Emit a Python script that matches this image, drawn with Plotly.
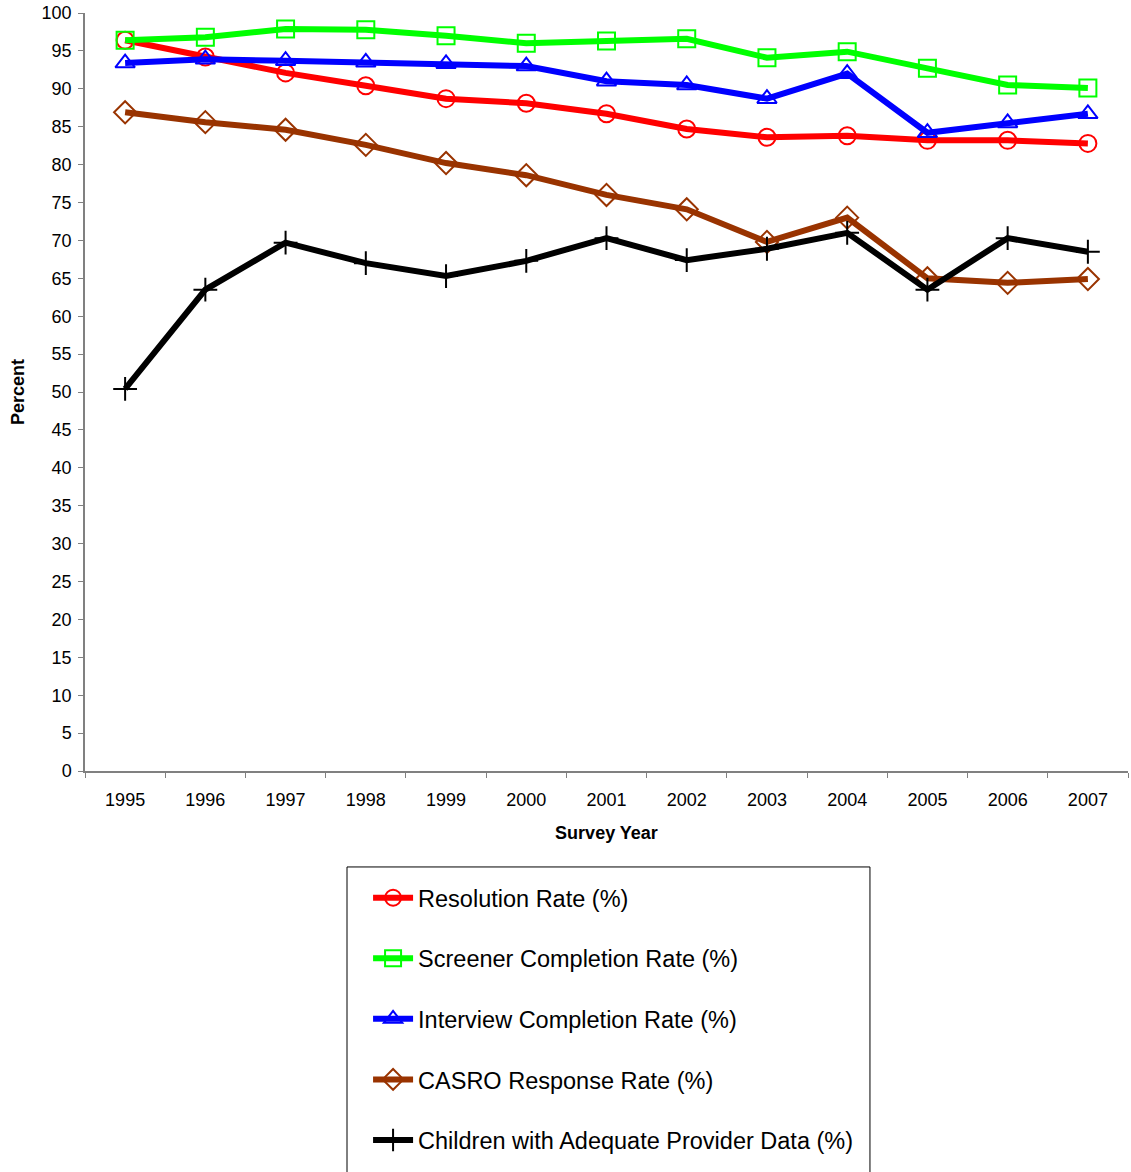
import plotly.graph_objects as go

years = ["1995", "1996", "1997", "1998", "1999", "2000", "2001", "2002", "2003", "2004", "2005", "2006", "2007"]
resolution = [96.4, 94.2, 92.1, 90.4, 88.7, 88.1, 86.7, 84.7, 83.6, 83.8, 83.2, 83.2, 82.8]
screener = [96.4, 96.8, 97.9, 97.8, 97.0, 96.0, 96.3, 96.6, 94.1, 94.9, 92.7, 90.5, 90.1]
interview = [93.4, 93.9, 93.7, 93.5, 93.3, 93.0, 91.0, 90.5, 88.7, 92.0, 84.2, 85.5, 86.7]
casro = [86.9, 85.6, 84.6, 82.6, 80.2, 78.6, 76.0, 74.1, 69.8, 73.0, 65.0, 64.4, 64.9]
children = [50.4, 63.5, 69.7, 67.0, 65.3, 67.3, 70.3, 67.4, 68.9, 71.0, 63.5, 70.3, 68.5]

series = [
    ("Resolution Rate (%)", resolution, "#FF0000", "circle-open"),
    ("Screener Completion Rate (%)", screener, "#00FF00", "square-open"),
    ("Interview Completion Rate (%)", interview, "#0000FF", "triangle-up-open"),
    ("CASRO Response Rate (%)", casro, "#993300", "diamond-open"),
    ("Children with Adequate Provider Data (%)", children, "#000000", "cross-thin-open"),
]

fig = go.Figure()
for i, (name, vals, color, sym) in enumerate(series):
    fig.add_trace(go.Scatter(
        x=years, y=vals, name=name, mode="lines+markers",
        legendgroup=str(i),
        line=dict(color=color, width=6),
        marker=dict(symbol=sym, size=17, color=color, line=dict(width=2, color=color)),
    ))

font_family = "Liberation Sans, Arial, sans-serif"
axis_color = "#808080"
fig.update_layout(
    width=1131, height=1172,
    margin=dict(l=85, r=3, t=13, b=401),
    paper_bgcolor="white", plot_bgcolor="white",
    font=dict(family=font_family, color="black", size=18),
    showlegend=True,
    legend=dict(
        x=0.2714, y=-0.1385, xanchor="left", yanchor="top",
        font=dict(size=23.5, family=font_family),
        tracegroupgap=27, bgcolor="rgba(0,0,0,0)", borderwidth=0,
        itemwidth=40,
    ),
    xaxis=dict(
        type="category", tickson="boundaries", ticks="outside", ticklen=5,
        tickcolor=axis_color, showline=True, linecolor=axis_color, linewidth=1.5,
        showgrid=False, zeroline=False, automargin=False,
        tickfont=dict(size=18), ticklabelstandoff=12,
        title=dict(text="<b>Survey Year</b>", font=dict(size=18), standoff=17),
        range=[-0.5, 12.5],
    ),
    yaxis=dict(
        range=[0, 100], dtick=5, ticks="outside", ticklen=5,
        tickcolor=axis_color, showline=True, linecolor=axis_color, linewidth=1.5,
        showgrid=False, zeroline=False, automargin=False,
        tickfont=dict(size=18), ticklabelstandoff=3, ticklabeloverflow="allow",
        title=dict(text="<b>Percent</b>", font=dict(size=18), standoff=12),
    ),
    shapes=[dict(type="rect", xref="paper", yref="paper",
                 x0=0.2512, x1=0.7526, y0=-0.56, y1=-0.1266,
                 line=dict(color="black", width=1))],
)

fig.write_html("out.html",
               config={"displayModeBar": False},
               post_script="document.body.style.margin='0px'; document.body.style.overflow='hidden';")
